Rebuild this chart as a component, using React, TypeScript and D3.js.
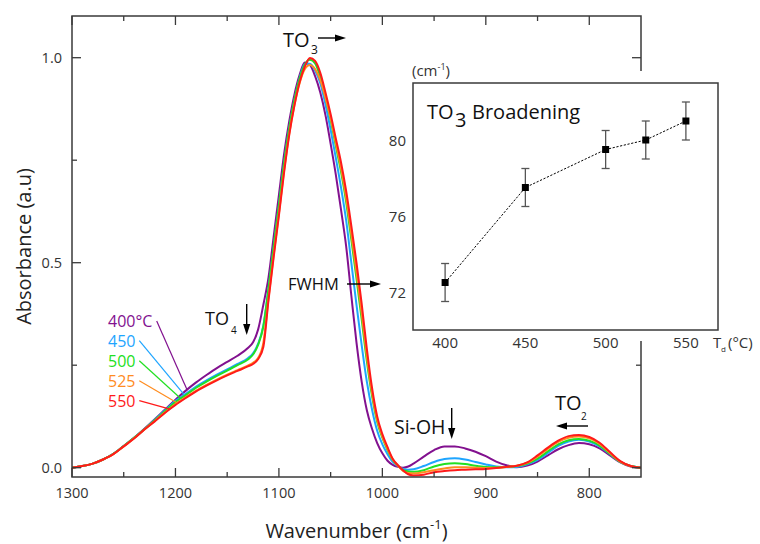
import React from 'react';
import * as d3 from 'd3';

// ---------- Data ----------
const WAVENUMBER = [
  1300, 1290, 1280, 1270, 1260, 1250, 1240, 1230, 1220, 1210, 1200, 1190, 1180, 1170, 1160, 1150, 1140, 1130,
  1125, 1120, 1115, 1110, 1105, 1100, 1095, 1090, 1085, 1080, 1075, 1070, 1065, 1060, 1055, 1050, 1045, 1040,
  1035, 1030, 1025, 1020, 1015, 1010, 1005, 1000, 995, 990, 985, 980, 975, 970,
  960, 950, 940, 930, 920, 910, 900, 890, 880, 870, 860, 850, 840, 830, 820, 810, 800, 790, 780, 770, 760, 750,
];

const ABS_400 = [
  0.000, 0.004, 0.010, 0.020, 0.034, 0.053, 0.073, 0.095, 0.118, 0.142, 0.166, 0.188, 0.208, 0.226, 0.243, 0.258, 0.273, 0.292,
  0.306, 0.338, 0.398, 0.465, 0.565, 0.665, 0.765, 0.845, 0.910, 0.958, 0.988, 0.982, 0.955, 0.915, 0.860, 0.790, 0.715, 0.630,
  0.540, 0.420, 0.305, 0.210, 0.140, 0.095, 0.060, 0.035, 0.017, 0.007, 0.002, 0.000, 0.003, 0.010,
  0.027, 0.043, 0.052, 0.052, 0.047, 0.039, 0.028, 0.015, 0.006, 0.001, 0.005, 0.015, 0.030, 0.045, 0.055, 0.060, 0.057, 0.047, 0.030, 0.013, 0.003, 0.000,
];

const ABS_450 = [
  0.000, 0.004, 0.010, 0.020, 0.034, 0.053, 0.073, 0.094, 0.117, 0.140, 0.163, 0.180, 0.198, 0.213, 0.227, 0.240, 0.253, 0.267,
  0.279, 0.303, 0.347, 0.438, 0.540, 0.640, 0.743, 0.829, 0.897, 0.950, 0.984, 0.985, 0.968, 0.938, 0.886, 0.824, 0.756, 0.684,
  0.603, 0.500, 0.397, 0.299, 0.210, 0.142, 0.090, 0.057, 0.033, 0.014, 0.004, -0.003, -0.005, -0.004,
  0.004, 0.014, 0.021, 0.023, 0.020, 0.014, 0.008, 0.003, 0.001, 0.002, 0.008, 0.019, 0.036, 0.053, 0.064, 0.068, 0.064, 0.052, 0.033, 0.014, 0.004, 0.000,
];

const ABS_500 = [
  0.000, 0.004, 0.010, 0.020, 0.034, 0.053, 0.073, 0.094, 0.116, 0.138, 0.160, 0.177, 0.195, 0.210, 0.224, 0.237, 0.250, 0.264,
  0.276, 0.300, 0.345, 0.438, 0.540, 0.640, 0.743, 0.829, 0.897, 0.949, 0.983, 0.995, 0.986, 0.953, 0.904, 0.848, 0.785, 0.722,
  0.648, 0.556, 0.461, 0.362, 0.260, 0.175, 0.112, 0.073, 0.043, 0.019, 0.005, -0.006, -0.009, -0.010,
  -0.006, 0.003, 0.009, 0.011, 0.009, 0.005, 0.002, 0.001, 0.002, 0.004, 0.010, 0.022, 0.040, 0.057, 0.067, 0.070, 0.066, 0.054, 0.034, 0.014, 0.004, 0.000,
];

const ABS_525 = [
  0.000, 0.004, 0.010, 0.020, 0.033, 0.052, 0.072, 0.093, 0.114, 0.135, 0.155, 0.172, 0.188, 0.202, 0.215, 0.227, 0.238, 0.249,
  0.256, 0.268, 0.305, 0.415, 0.520, 0.620, 0.725, 0.815, 0.885, 0.938, 0.972, 0.982, 0.972, 0.945, 0.902, 0.852, 0.792, 0.731,
  0.659, 0.570, 0.477, 0.377, 0.272, 0.183, 0.117, 0.076, 0.046, 0.020, 0.005, -0.008, -0.013, -0.014,
  -0.011, -0.006, -0.002, 0.001, 0.001, 0.000, -0.001, 0.000, 0.002, 0.005, 0.012, 0.027, 0.046, 0.063, 0.073, 0.076, 0.072, 0.058, 0.036, 0.015, 0.004, 0.000,
];

const ABS_550 = [
  0.000, 0.004, 0.010, 0.020, 0.033, 0.052, 0.071, 0.093, 0.113, 0.134, 0.153, 0.170, 0.186, 0.200, 0.213, 0.225, 0.236, 0.247,
  0.253, 0.265, 0.295, 0.410, 0.515, 0.615, 0.720, 0.812, 0.883, 0.940, 0.978, 0.999, 0.992, 0.963, 0.915, 0.862, 0.803, 0.745,
  0.675, 0.590, 0.500, 0.400, 0.290, 0.195, 0.125, 0.082, 0.050, 0.022, 0.006, -0.006, -0.016, -0.019,
  -0.017, -0.011, -0.008, -0.006, -0.005, -0.004, -0.003, -0.001, 0.002, 0.005, 0.013, 0.030, 0.049, 0.066, 0.077, 0.080, 0.075, 0.061, 0.038, 0.016, 0.004, 0.000,
];

const SERIES_LABELS = ['400°C', '450', '500', '525', '550'];
const SERIES_COLORS = ['#82118f', '#1ea5ff', '#22e022', '#ff8c1f', '#ff1a1a'];
const SERIES_VALUES = [ABS_400, ABS_450, ABS_500, ABS_525, ABS_550];
// wavenumber where each legend leader line touches its curve
const LEADER_WN = [1188.8, 1191.4, 1194.9, 1198.2, 1205.3];

const X_MAJOR = [1300, 1200, 1100, 1000, 900, 800];
const X_MINOR = [1250, 1150, 1050, 950, 850];
const Y_MAJOR = [0, 0.5, 1.0];
const Y_MINOR = [0.25, 0.75];

// Inset: TO3 FWHM vs deposition temperature
const INSET_T = [400, 450, 500, 525, 550];
const INSET_FWHM = [72.5, 77.5, 79.5, 80.0, 81.0];
const INSET_ERR = [1.0, 1.0, 1.0, 1.0, 1.0];
const INSET_X_TICKS = [400, 450, 500, 550];
const INSET_Y_TICKS = [72, 76, 80];

const FONT = "'Open Sans', 'Noto Sans', 'DejaVu Sans', sans-serif";

function Arrow({ x1, y1, x2, y2 }: { x1: number; y1: number; x2: number; y2: number }) {
  const len = 11;
  const half = 3.6;
  const ang = Math.atan2(y2 - y1, x2 - x1);
  const bx = x2 - len * Math.cos(ang);
  const by = y2 - len * Math.sin(ang);
  const px = -Math.sin(ang) * half;
  const py = Math.cos(ang) * half;
  return (
    <g>
      <line x1={x1} y1={y1} x2={bx + Math.cos(ang)} y2={by + Math.sin(ang)} stroke="#000" strokeWidth={1.4} />
      <polygon points={`${x2},${y2} ${bx + px},${by + py} ${bx - px},${by - py}`} fill="#000" />
    </g>
  );
}

function valueAt(values: number[], wn: number) {
  for (let i = 0; i < WAVENUMBER.length - 1; i++) {
    const a = WAVENUMBER[i];
    const b = WAVENUMBER[i + 1];
    if (wn <= a && wn >= b) {
      const t = (a - wn) / (a - b);
      return values[i] + t * (values[i + 1] - values[i]);
    }
  }
  return 0;
}

export default function App() {
  // main plot frame
  const left = 72, right = 641, top = 16, bottom = 477;
  const x = d3.scaleLinear().domain([1300, 750]).range([left, right]);
  const y = d3.scaleLinear().domain([0, 1]).range([467.7, 57.7]);

  const line = d3
    .line<number>()
    .x((_, i) => x(WAVENUMBER[i]))
    .y((d) => y(d))
    .curve(d3.curveMonotoneX);

  // inset frame
  const iL = 413, iR = 718, iT = 83, iB = 330;
  const xi = d3.scaleLinear().domain([380, 570]).range([iL, iR]);
  const yi = d3.scaleLinear().domain([70, 83]).range([iB, iT]);
  const insetLine = d3
    .line<number>()
    .x((_, i) => xi(INSET_T[i]))
    .y((d) => yi(d));

  const axisColor = '#3a3a3a';
  const tickColor = '#3a3a3a';
  const majorLen = 9;
  const minorLen = 5;

  return (
    <svg
      width={760}
      height={544}
      style={{ position: 'absolute', left: 0, top: 0, background: '#fff' }}
      fontFamily={FONT}
    >
      <rect x={0} y={0} width={760} height={544} fill="#fff" />

      {/* curves */}
      <g fill="none" strokeWidth={2} strokeLinejoin="round">
        {SERIES_VALUES.map((vals, k) => (
          <path key={k} d={line(vals) || ''} stroke={SERIES_COLORS[k]} />
        ))}
      </g>

      {/* main frame */}
      <rect x={left} y={top} width={right - left} height={bottom - top} fill="none" stroke={axisColor} strokeWidth={1.5} />
      {X_MAJOR.map((v) => (
        <g key={'xm' + v} stroke={tickColor} strokeWidth={1.3}>
          <line x1={x(v)} x2={x(v)} y1={bottom} y2={bottom - majorLen} />
          <line x1={x(v)} x2={x(v)} y1={top} y2={top + majorLen} />
        </g>
      ))}
      {X_MINOR.map((v) => (
        <g key={'xn' + v} stroke={tickColor} strokeWidth={1.3}>
          <line x1={x(v)} x2={x(v)} y1={bottom} y2={bottom - minorLen} />
          <line x1={x(v)} x2={x(v)} y1={top} y2={top + minorLen} />
        </g>
      ))}
      {Y_MAJOR.map((v) => (
        <g key={'ym' + v} stroke={tickColor} strokeWidth={1.3}>
          <line x1={left} x2={left + majorLen} y1={y(v)} y2={y(v)} />
          <line x1={right} x2={right - majorLen} y1={y(v)} y2={y(v)} />
        </g>
      ))}
      {Y_MINOR.map((v) => (
        <g key={'yn' + v} stroke={tickColor} strokeWidth={1.3}>
          <line x1={left} x2={left + minorLen} y1={y(v)} y2={y(v)} />
          <line x1={right} x2={right - minorLen} y1={y(v)} y2={y(v)} />
        </g>
      ))}
      {X_MAJOR.map((v) => (
        <text key={'xl' + v} x={x(v)} y={498} textAnchor="middle" fontSize={14.5} fill="#333">
          {v}
        </text>
      ))}
      {Y_MAJOR.map((v) => (
        <text key={'yl' + v} x={62} y={y(v) + 5} textAnchor="end" fontSize={14.5} fill="#333">
          {v.toFixed(1)}
        </text>
      ))}

      {/* axis titles */}
      <text x={356.5} y={538} textAnchor="middle" fontSize={20} fill="#222">
        Wavenumber (cm
        <tspan fontSize={13} dy={-9}>-1</tspan>
        <tspan dy={9}>)</tspan>
      </text>
      <text transform="translate(31,246.5) rotate(-90)" textAnchor="middle" fontSize={20} fill="#222">
        Absorbance (a.u)
      </text>

      {/* legend labels with leader lines */}
      {SERIES_LABELS.map((lab, k) => {
        const ty = 326.7 + k * 20;
        const startX = k === 0 ? 156.7 : 139.3;
        const startY = k === 0 ? 321 : ty - 6;
        const ex = x(LEADER_WN[k]);
        const ey = y(valueAt(SERIES_VALUES[k], LEADER_WN[k]));
        return (
          <g key={'lg' + k}>
            <line x1={startX} y1={startY} x2={ex} y2={ey} stroke={SERIES_COLORS[k]} strokeWidth={1.2} />
            <text x={108} y={ty} fontSize={16} fill={SERIES_COLORS[k]}>
              {lab}
            </text>
          </g>
        );
      })}

      {/* annotations */}
      <text x={283} y={47} fontSize={20} fill="#111">TO</text>
      <text x={311} y={54} fontSize={12} fill="#111">3</text>
      <Arrow x1={318} y1={38} x2={346} y2={38} />

      <text x={205} y={325} fontSize={18} fill="#111">TO</text>
      <text x={231} y={333.5} fontSize={10} fill="#111">4</text>
      <Arrow x1={246.7} y1={304} x2={246.7} y2={335} />

      <text x={288} y={290} fontSize={16.5} fill="#111">FWHM</text>
      <Arrow x1={347} y1={284} x2={381} y2={284} />

      <text x={394} y={434} fontSize={19.5} fill="#111">Si-OH</text>
      <Arrow x1={451.7} y1={408} x2={451.7} y2={439} />

      <text x={555} y={410} fontSize={20} fill="#111">TO</text>
      <text x={581} y={420} fontSize={10} fill="#111">2</text>
      <Arrow x1={588} y1={426} x2={556} y2={426} />

      {/* inset background */}
      <rect x={398} y={71} width={362} height={270} fill="#fff" />
      <rect x={iL} y={iT} width={iR - iL} height={iB - iT} fill="#fff" stroke={axisColor} strokeWidth={1.5} />

      <path d={insetLine(INSET_FWHM) || ''} fill="none" stroke="#000" strokeWidth={1} strokeDasharray="2.2,1.6" />
      {INSET_T.map((t, i) => {
        const cx = xi(t);
        const y1 = yi(INSET_FWHM[i] - INSET_ERR[i]);
        const y2 = yi(INSET_FWHM[i] + INSET_ERR[i]);
        return (
          <g key={'e' + i} stroke="#555" strokeWidth={1.3}>
            <line x1={cx} x2={cx} y1={y1} y2={y2} />
            <line x1={cx - 4} x2={cx + 4} y1={y1} y2={y1} />
            <line x1={cx - 4} x2={cx + 4} y1={y2} y2={y2} />
          </g>
        );
      })}
      {INSET_T.map((t, i) => (
        <rect key={'m' + i} x={xi(t) - 3.5} y={yi(INSET_FWHM[i]) - 3.5} width={7} height={7} fill="#000" />
      ))}

      {INSET_X_TICKS.map((v) => (
        <text key={'ix' + v} x={xi(v)} y={348} textAnchor="middle" fontSize={15} fill="#333">
          {v}
        </text>
      ))}
      {INSET_Y_TICKS.map((v) => (
        <text key={'iy' + v} x={406} y={yi(v) + 5.5} textAnchor="end" fontSize={15} fill="#333">
          {v}
        </text>
      ))}

      <text x={412} y={76} fontSize={15} fill="#333">
        (cm
        <tspan fontSize={9} dy={-6}>-1</tspan>
        <tspan dy={6}>)</tspan>
      </text>
      <text x={713} y={348} fontSize={15} fill="#333">T</text>
      <text x={721} y={351.5} fontSize={8} fill="#333">d</text>
      <text x={728} y={348} fontSize={15} fill="#333">(°C)</text>

      <text x={427} y={119} fontSize={20} fill="#111">TO</text>
      <text x={455} y={127} fontSize={20} fill="#111">3</text>
      <text x={472} y={119} fontSize={20} fill="#111">Broadening</text>
    </svg>
  );
}
